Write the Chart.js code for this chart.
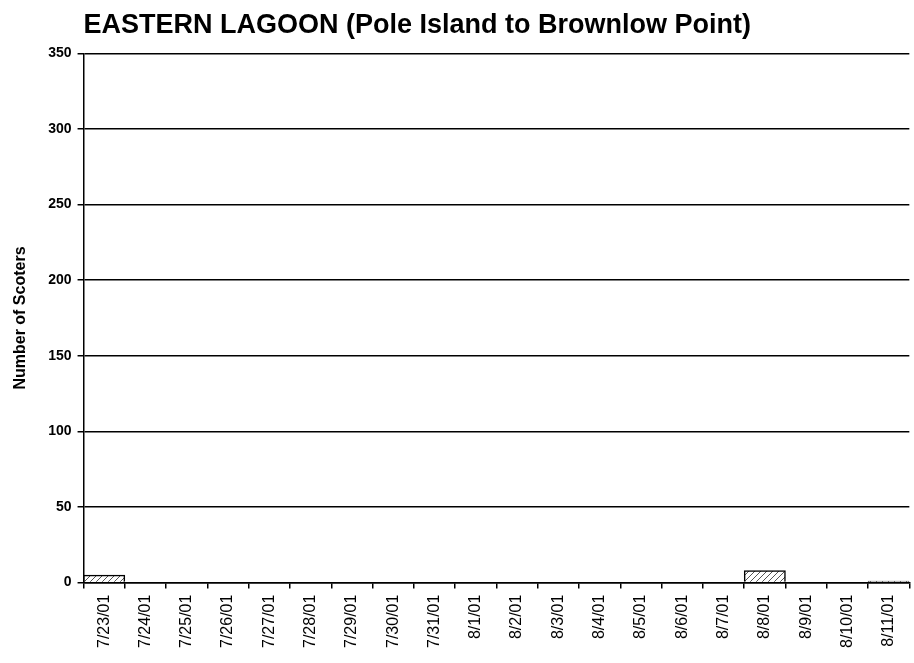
<!DOCTYPE html>
<html>
<head>
<meta charset="utf-8">
<script src="https://cdn.jsdelivr.net/npm/chart.js@4/dist/chart.umd.min.js"></script>
<style>
html,body{margin:0;padding:0;background:#fff;}
#wrap{width:914px;height:663px;position:relative;}
</style>
</head>
<body>
<div id="wrap"><canvas id="c" width="914" height="663"></canvas></div>
<script>
const titleText = "EASTERN LAGOON (Pole Island to Brownlow Point)";
const yAxisTitle = "Number of Scoters";
const dates = ["7/23/01","7/24/01","7/25/01","7/26/01","7/27/01","7/28/01","7/29/01","7/30/01","7/31/01","8/1/01","8/2/01","8/3/01","8/4/01","8/5/01","8/6/01","8/7/01","8/8/01","8/9/01","8/10/01","8/11/01"];
const scoters = [5,0,0,0,0,0,0,0,0,0,0,0,0,0,0,0,8,0,0,1];
const yMin = 0, yMax = 350, yStep = 50;

function hatch(){
  const p = document.createElement('canvas');
  p.width = 6; p.height = 6;
  const g = p.getContext('2d');
  g.fillStyle = '#fff'; g.fillRect(0,0,6,6);
  g.strokeStyle = '#555'; g.lineWidth = 1;
  g.beginPath(); g.moveTo(0,6); g.lineTo(6,0); g.stroke();
  return g.createPattern(p,'repeat');
}

const FONT = 'Liberation Sans, Arial, sans-serif';
const ctx = document.getElementById('c').getContext('2d');
new Chart(ctx, {
  type: 'bar',
  data: {
    labels: dates,
    datasets: [{
      label: yAxisTitle,
      data: scoters,
      backgroundColor: hatch(),
      borderColor: '#000',
      borderWidth: 1.5,
      borderSkipped: 'bottom',
      barPercentage: 1.0,
      categoryPercentage: 1.0
    }]
  },
  options: {
    responsive: false,
    animation: false,
    devicePixelRatio: 1,
    layout: { padding: { top: 9, left: 11, right: -4, bottom: 9 } },
    plugins: {
      legend: { display: false },
      tooltip: { enabled: false },
      title: {
        display: true,
        text: titleText,
        align: 'start',
        fullSize: false,
        color: '#000',
        font: { family: FONT, size: 27, weight: 'bold' },
        padding: { top: 0, bottom: 12 }
      }
    },
    scales: {
      x: {
        grid: { display: true, offset: true, drawOnChartArea: false, drawTicks: true, tickLength: 6, color: '#000', lineWidth: 1.5 },
        border: { display: true, color: '#000', width: 1.5 },
        ticks: {
          autoSkip: false,
          maxRotation: 90, minRotation: 90,
          color: '#000',
          padding: 6,
          font: { family: FONT, size: 16 }
        }
      },
      y: {
        min: yMin, max: yMax,
        ticks: {
          stepSize: yStep,
          color: '#000',
          padding: 6,
          font: { family: FONT, size: 14, weight: 'bold' }
        },
        grid: { display: true, drawOnChartArea: true, drawTicks: true, tickLength: 6, color: '#000', lineWidth: 1.5 },
        border: { display: true, color: '#000', width: 1.5 },
        title: {
          display: true,
          text: yAxisTitle,
          color: '#000',
          padding: { top: 0, bottom: 12 },
          font: { family: FONT, size: 16, weight: 'bold' }
        }
      }
    }
  }
});
</script>
</body>
</html>
